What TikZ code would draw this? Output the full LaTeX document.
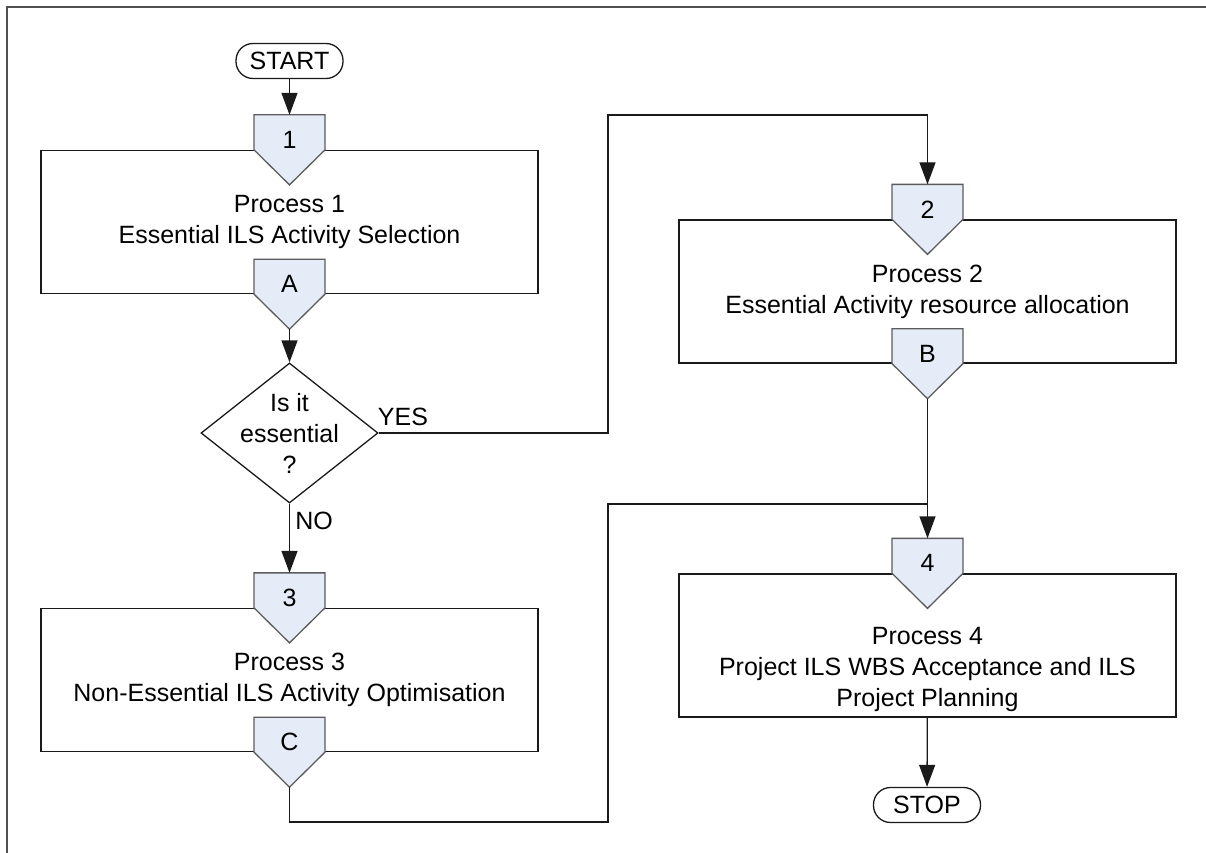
\documentclass[tikz,border=0pt]{standalone}
\usepackage{fontspec}
\setmainfont{Liberation Sans}
\usepackage{tikz}
\usetikzlibrary{
    arrows.meta,
    positioning,
    calc,
    shapes.geometric
}
\definecolor{ink}     {HTML}{1A1A1A}
\definecolor{tagfill} {HTML}{E6ECF7}
\definecolor{tagedge} {HTML}{5C5C5C}
\definecolor{framegray}{HTML}{505050}

\begin{document}
\begin{tikzpicture}[
    x=1pt, y=-1pt,
    line join=miter,
    >={Triangle[length=22pt, width=16pt]},
    every node/.style = {font=\fontsize{25}{31}\selectfont, text=black},
    %% --- semantic styles ---
    procbox/.style   = {rectangle, draw=ink, line width=1.3pt,
                        minimum width=497pt, minimum height=143pt,
                        align=center, inner sep=0pt},
    proctext/.style  = {align=center, inner sep=0pt},
    tagshape/.style  = {fill=tagfill, draw=tagedge, line width=1.3pt},
    tagtext/.style   = {inner sep=0pt},
    terminal/.style  = {rectangle, rounded corners=17pt, draw=ink,
                        line width=1.3pt, minimum width=107pt,
                        minimum height=35pt, inner sep=0pt},
    decision/.style  = {diamond, draw=ink, line width=1.3pt,
                        minimum width=177pt, minimum height=140pt,
                        inner sep=0pt},
    flow/.style      = {->, draw=ink, line width=1.3pt},
    link/.style      = {draw=ink, line width=1.3pt},
    branch/.style    = {inner sep=0pt}
]
\useasboundingbox (0,0) rectangle (1206,853);

% page frame
\draw[draw=framegray, line width=2pt] (1206,7) -- (7,7) -- (7,853);

%% =====================================================
%% Terminals and process boxes
%% =====================================================
\node[terminal] (START) at (289.5,61) {START};

\node[procbox] (P1) at (289.5,222)
    {Process 1\\Essential ILS Activity Selection};
\node[procbox] (P2) at (927.5,291.5)
    {Process 2\\Essential Activity resource allocation};
\node[procbox] (P3) at (289.5,680)
    {Process 3\\Non-Essential ILS Activity Optimisation};
\node[procbox] (P4) at (927.5,645.5) {};
\node[proctext] (P4txt) at (927.5,669)
    {Process 4\\Project ILS WBS Acceptance and ILS\\Project Planning};

\node[terminal] (STOP) at (927,805) {STOP};

%% =====================================================
%% Off-page tags on the box edges
%% =====================================================
\foreach \b/\a/\n in {P1/north/1, P1/south/A, P2/north/2, P2/south/B,
                      P3/north/3, P3/south/C, P4/north/4} {
    \filldraw[tagshape] ([shift={(-35.5,-35)}]\b.\a) -- ++(71,0) -- ++(0,35)
        -- ++(-35.5,35) -- ++(-35.5,-35) -- cycle;
    \node[tagtext] (T\n) at ([yshift=10pt]\b.\a) {\n};
    \coordinate (T\n-top) at ([yshift=35pt]\b.\a);
    \coordinate (T\n-tip) at ([yshift=-35pt]\b.\a);
}

%% =====================================================
%% Decision
%% =====================================================
\node[decision] (Q) at (289.5,433) {};
\node[proctext] (Qtxt) at (Q) {Is it\\essential\\?};
\node[branch] (yes) at (403,417) {YES};
\node[branch] (no) at (314,521) {NO};

%% =====================================================
%% Connectors
%% =====================================================
\coordinate (yesbend) at (608,115);
\coordinate (nobend) at (608,822);
\coordinate (join) at (927.5,504);

\draw[flow] (START) -- (T1-top);
\draw[flow] (TA-tip) -- (Q.north);
\draw[flow] (Q.east) -| (yesbend) -| (T2-top);
\draw[flow] (Q.south) -- (T3-top);
\draw[flow] (TB-tip) -- (T4-top);
\draw[link] (TC-tip) |- (nobend) |- (join);
\draw[flow] (P4) -- (STOP);

\end{tikzpicture}
\end{document}
